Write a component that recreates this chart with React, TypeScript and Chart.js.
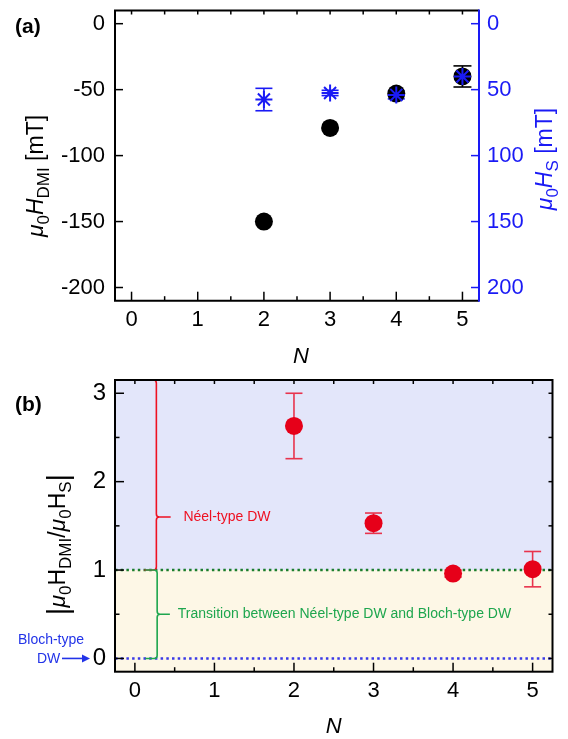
import React, { useEffect, useRef } from "react";
import { Chart, registerables } from "chart.js";
Chart.register(...registerables);

// ---------- data ----------
const N_LAYERS = [2, 3, 4, 5];
const H_DMI = [-150, -79, -53, -40];
const H_DMI_ERR = [0, 0, 0, 8];
const H_S = [57.5, 52.5, 54, 40];
const H_S_ERR = [8.5, 2, 3, 2];
const RATIO = [2.63, 1.53, 0.96, 1.01];
const RATIO_ERR = [0.37, 0.115, 0.04, 0.2];
const N_TICKS = [0, 1, 2, 3, 4, 5];
const DMI_TICKS = [0, -50, -100, -150, -200];
const HS_TICKS = [0, 50, 100, 150, 200];
const RATIO_TICKS = [0, 1, 2, 3];
const X_RANGE = [-0.25, 5.25];
const DMI_RANGE = [-210, 10];
const HS_RANGE = [-10, 210];
const RATIO_RANGE = [-0.15, 3.15];
const NEEL_LIMIT = 1;
const BLOCH_LIMIT = 0;

const FONT = '"Liberation Sans", Arial, Helvetica, sans-serif';
const BLUE = "#1a1af5";
const RED = "#e60019";
const RED_ERR = "#e8334d";
const GREEN_TXT = "#1ea64e";
const GREEN_DOT = "#1b7d2c";
const LAVENDER = "#e3e6fa";
const CREAM = "#fdf7e6";

type Part = { t: string; sub?: boolean; italic?: boolean; bold?: boolean; big?: boolean };

function fontFor(p: Part, size: number) {
  const s = p.sub ? Math.round(size * 0.72) : p.big ? Math.round(size * 1.25) : size;
  return `${p.italic ? "italic " : ""}${p.bold ? "bold " : ""}${s}px ${FONT}`;
}

function drawRich(
  ctx: CanvasRenderingContext2D,
  parts: Part[],
  x: number,
  y: number,
  size: number,
  color: string,
  rotate: boolean,
  align: "center" | "left" = "center"
) {
  ctx.save();
  ctx.translate(x, y);
  if (rotate) ctx.rotate(-Math.PI / 2);
  const widths = parts.map((p) => {
    ctx.font = fontFor(p, size);
    return ctx.measureText(p.t).width;
  });
  const total = widths.reduce((a, b) => a + b, 0);
  let cx = align === "center" ? -total / 2 : 0;
  ctx.textBaseline = "alphabetic";
  ctx.textAlign = "left";
  ctx.fillStyle = color;
  parts.forEach((p, i) => {
    ctx.font = fontFor(p, size);
    ctx.fillText(p.t, cx, p.sub ? size * 0.24 : p.big ? size * 0.12 : 0);
    cx += widths[i];
  });
  ctx.restore();
}

function tickLine(ctx: CanvasRenderingContext2D, x1: number, y1: number, x2: number, y2: number) {
  ctx.beginPath();
  ctx.moveTo(x1, y1);
  ctx.lineTo(x2, y2);
  ctx.stroke();
}

function errorBars(chart: any) {
  const ctx = chart.ctx;
  chart.data.datasets.forEach((ds: any, i: number) => {
    if (!ds.errors) return;
    const meta = chart.getDatasetMeta(i);
    const ys = chart.scales[meta.yAxisID];
    ctx.save();
    ctx.strokeStyle = ds.errColor;
    ctx.lineWidth = ds.errWidth || 1.6;
    meta.data.forEach((pt: any, j: number) => {
      const e = ds.errors[j];
      if (!e) return;
      const v = ds.data[j].y;
      const y1 = ys.getPixelForValue(v + e);
      const y2 = ys.getPixelForValue(v - e);
      const h = ds.capHalf || 8.5;
      tickLine(ctx, pt.x, y1, pt.x, y2);
      tickLine(ctx, pt.x - h, y1, pt.x + h, y1);
      tickLine(ctx, pt.x - h, y2, pt.x + h, y2);
    });
    ctx.restore();
  });
}

function fixAxis(size: number, vertical: boolean) {
  return (s: any) => {
    if (vertical) s.width = size;
    else s.height = size;
    s.paddingTop = 0;
    s.paddingBottom = 0;
    s.paddingLeft = 0;
    s.paddingRight = 0;
  };
}

function setTicks(vals: number[]) {
  return (s: any) => {
    s.ticks = vals.map((v) => ({ value: v }));
  };
}

const tickFont = { family: FONT, size: 22 };

// ---------- Panel A ----------
const pluginA = {
  id: "panelA",
  beforeDatasetsDraw(chart: any) {
    errorBars(chart);
  },
  afterDraw(chart: any) {
    const { ctx, chartArea: a, scales } = chart;
    const xs = scales.x, ys = scales.y, y2 = scales.y2;
    ctx.save();
    ctx.lineWidth = 2;
    ctx.strokeStyle = "#000";
    ctx.beginPath();
    ctx.moveTo(a.right, a.top);
    ctx.lineTo(a.left, a.top);
    ctx.lineTo(a.left, a.bottom);
    ctx.lineTo(a.right, a.bottom);
    ctx.stroke();
    ctx.lineWidth = 1.5;
    for (let v = 0; v <= 5.001; v += 0.5) {
      const px = xs.getPixelForValue(v);
      const major = Math.abs(v - Math.round(v)) < 0.01;
      tickLine(ctx, px, a.bottom, px, a.bottom - (major ? 9 : 4.5));
      tickLine(ctx, px, a.top, px, a.top + 4);
    }
    DMI_TICKS.forEach((v) => {
      const py = ys.getPixelForValue(v);
      tickLine(ctx, a.left, py, a.left + 8, py);
    });
    ctx.strokeStyle = BLUE;
    ctx.lineWidth = 2;
    tickLine(ctx, a.right, a.top - 1, a.right, a.bottom + 1);
    ctx.lineWidth = 1.5;
    HS_TICKS.forEach((v) => {
      const py = y2.getPixelForValue(v);
      tickLine(ctx, a.right, py, a.right - 8, py);
    });
    ctx.restore();

    drawRich(ctx, [
      { t: "μ", italic: true },
      { t: "0", sub: true },
      { t: "H", italic: true },
      { t: "DMI", sub: true },
      { t: " [mT]" },
    ], 43, 176, 23, "#000", true);
    drawRich(ctx, [
      { t: "μ", italic: true },
      { t: "0", sub: true },
      { t: "H", italic: true },
      { t: "S", sub: true },
      { t: " [mT]" },
    ], 552, 159, 23, BLUE, true);
    drawRich(ctx, [{ t: "N", italic: true }], (a.left + a.right) / 2 + 4, 363, 22, "#000", false);
    drawRich(ctx, [{ t: "(a)", bold: true }], 15, 33, 21, "#000", false, "left");
  },
};

function PanelA() {
  const ref = useRef<HTMLCanvasElement>(null);
  useEffect(() => {
    const chart = new Chart(ref.current!, {
      type: "scatter",
      data: {
        datasets: [
          {
            label: "Hs",
            data: N_LAYERS.map((n, i) => ({ x: n, y: H_S[i] })),
            yAxisID: "y2",
            pointStyle: "star",
            pointRadius: 8.5,
            borderWidth: 2,
            borderColor: BLUE,
            backgroundColor: BLUE,
            order: 0,
            errors: H_S_ERR,
            errColor: BLUE,
            capHalf: 8.5,
          } as any,
          {
            label: "DMI",
            data: N_LAYERS.map((n, i) => ({ x: n, y: H_DMI[i] })),
            yAxisID: "y",
            pointStyle: "circle",
            pointRadius: 9,
            borderWidth: 0,
            backgroundColor: "#000",
            borderColor: "#000",
            order: 1,
            errors: H_DMI_ERR,
            errColor: "#000",
            capHalf: 9,
          } as any,
        ],
      },
      options: {
        responsive: false,
        animation: false,
        layout: { padding: { top: 10, left: 0, right: 0, bottom: 0 } },
        plugins: { legend: { display: false }, tooltip: { enabled: false } },
        scales: {
          x: {
            type: "linear",
            min: X_RANGE[0],
            max: X_RANGE[1],
            afterBuildTicks: setTicks(N_TICKS),
            afterFit: fixAxis(69.3, false),
            ticks: { font: tickFont, color: "#000", padding: 6, maxRotation: 0, autoSkip: false },
            grid: { display: false, drawTicks: false },
            border: { display: false },
          },
          y: {
            type: "linear",
            position: "left",
            min: DMI_RANGE[0],
            max: DMI_RANGE[1],
            afterBuildTicks: setTicks(DMI_TICKS),
            afterFit: fixAxis(115, true),
            ticks: { font: tickFont, color: "#000", padding: 10, autoSkip: false },
            grid: { display: false, drawTicks: false },
            border: { display: false },
          },
          y2: {
            type: "linear",
            position: "right",
            reverse: true,
            min: HS_RANGE[0],
            max: HS_RANGE[1],
            afterBuildTicks: setTicks(HS_TICKS),
            afterFit: fixAxis(89, true),
            ticks: { font: tickFont, color: BLUE, padding: 8, autoSkip: false },
            grid: { display: false, drawTicks: false },
            border: { display: false },
          },
        },
      } as any,
      plugins: [pluginA],
    });
    return () => chart.destroy();
  }, []);
  return <canvas ref={ref} width={568} height={370} style={{ display: "block" }} />;
}

// ---------- Panel B ----------
function brace(
  ctx: CanvasRenderingContext2D,
  xo: number,
  xi: number,
  xt: number,
  yTop: number,
  yBot: number,
  yTip: number,
  color: string
) {
  const r = 3;
  ctx.save();
  ctx.strokeStyle = color;
  ctx.lineWidth = 1.6;
  ctx.beginPath();
  ctx.moveTo(xo, yTop);
  ctx.lineTo(xi - r, yTop);
  ctx.quadraticCurveTo(xi, yTop, xi, yTop + r);
  ctx.lineTo(xi, yTip - r);
  ctx.quadraticCurveTo(xi, yTip, xi + r, yTip);
  ctx.lineTo(xt, yTip);
  ctx.moveTo(xi + r, yTip);
  ctx.quadraticCurveTo(xi, yTip, xi, yTip + r);
  ctx.lineTo(xi, yBot - r);
  ctx.quadraticCurveTo(xi, yBot, xi - r, yBot);
  ctx.lineTo(xo, yBot);
  ctx.stroke();
  ctx.restore();
}

const pluginB = {
  id: "panelB",
  beforeDatasetsDraw(chart: any) {
    const { ctx, chartArea: a, scales } = chart;
    const xs = scales.x, ys = scales.y;
    const y1 = ys.getPixelForValue(NEEL_LIMIT);
    const y0 = ys.getPixelForValue(BLOCH_LIMIT);
    ctx.save();
    ctx.fillStyle = LAVENDER;
    ctx.fillRect(a.left, a.top, a.right - a.left, y1 - a.top);
    ctx.fillStyle = CREAM;
    ctx.fillRect(a.left, y1, a.right - a.left, a.bottom - y1);
    ctx.lineWidth = 2.5;
    ctx.lineCap = "butt";
    ctx.setLineDash([2.5, 3.2]);
    ctx.strokeStyle = GREEN_DOT;
    tickLine(ctx, a.left, y1, a.right, y1);
    ctx.strokeStyle = "#3a3ae6";
    tickLine(ctx, a.left, y0, a.right, y0);
    ctx.setLineDash([]);
    ctx.restore();

    brace(ctx, xs.getPixelForValue(0.12), xs.getPixelForValue(0.27), xs.getPixelForValue(0.45),
      a.top, y1, ys.getPixelForValue(1.6), "#ee1122");
    brace(ctx, xs.getPixelForValue(0.13), xs.getPixelForValue(0.28), xs.getPixelForValue(0.44),
      y1, y0, ys.getPixelForValue(0.5), GREEN_TXT);

    ctx.save();
    ctx.font = `14px ${FONT}`;
    ctx.textBaseline = "middle";
    ctx.textAlign = "left";
    ctx.fillStyle = "#ee1122";
    ctx.fillText("Néel-type DW", xs.getPixelForValue(0.61), ys.getPixelForValue(1.6));
    ctx.fillStyle = GREEN_TXT;
    ctx.fillText("Transition between Néel-type DW and Bloch-type DW", xs.getPixelForValue(0.54), ys.getPixelForValue(0.5));
    ctx.restore();

    errorBars(chart);
  },
  afterDraw(chart: any) {
    const { ctx, chartArea: a, scales } = chart;
    const xs = scales.x, ys = scales.y;
    ctx.save();
    ctx.lineWidth = 2;
    ctx.strokeStyle = "#000";
    ctx.strokeRect(a.left, a.top, a.right - a.left, a.bottom - a.top);
    ctx.lineWidth = 1.5;
    for (let v = 0; v <= 5.001; v += 0.5) {
      const px = xs.getPixelForValue(v);
      const major = Math.abs(v - Math.round(v)) < 0.01;
      tickLine(ctx, px, a.bottom, px, a.bottom - (major ? 9 : 4.5));
      tickLine(ctx, px, a.top, px, a.top + 4);
    }
    for (let v = 0; v <= 3.001; v += 0.5) {
      const py = ys.getPixelForValue(v);
      const major = Math.abs(v - Math.round(v)) < 0.01;
      tickLine(ctx, a.left, py, a.left + (major ? 9 : 4.5), py);
      tickLine(ctx, a.right, py, a.right - 4, py);
    }
    ctx.restore();

    const y0 = ys.getPixelForValue(BLOCH_LIMIT);
    ctx.save();
    ctx.fillStyle = "#2233e8";
    ctx.strokeStyle = "#2233e8";
    ctx.font = `14px ${FONT}`;
    ctx.textBaseline = "middle";
    ctx.textAlign = "center";
    ctx.fillText("Bloch-type", 51, y0 - 18);
    ctx.textAlign = "left";
    ctx.fillText("DW", 37, y0 + 1);
    ctx.lineWidth = 1.6;
    tickLine(ctx, 62, y0, 84, y0);
    ctx.beginPath();
    ctx.moveTo(90, y0);
    ctx.lineTo(82, y0 - 4);
    ctx.lineTo(82, y0 + 4);
    ctx.closePath();
    ctx.fill();
    ctx.restore();

    drawRich(ctx, [
      { t: "|", big: true },
      { t: "μ", italic: true },
      { t: "0", sub: true },
      { t: "H" },
      { t: "DMI", sub: true },
      { t: "/" },
      { t: "μ", italic: true },
      { t: "0", sub: true },
      { t: "H" },
      { t: "S", sub: true },
      { t: "|", big: true },
    ], 65, 174.5, 23, "#000", true);
    drawRich(ctx, [{ t: "N", italic: true }], (a.left + a.right) / 2, 363, 22, "#000", false);
    drawRich(ctx, [{ t: "(b)", bold: true }], 15, 41, 21, "#000", false, "left");
  },
};

function PanelB() {
  const ref = useRef<HTMLCanvasElement>(null);
  useEffect(() => {
    const chart = new Chart(ref.current!, {
      type: "scatter",
      data: {
        datasets: [
          {
            label: "ratio",
            data: N_LAYERS.map((n, i) => ({ x: n, y: RATIO[i] })),
            pointStyle: "circle",
            pointRadius: 9,
            borderWidth: 0,
            backgroundColor: RED,
            borderColor: RED,
            errors: RATIO_ERR,
            errColor: RED_ERR,
            capHalf: 8.5,
          } as any,
        ],
      },
      options: {
        responsive: false,
        animation: false,
        layout: { padding: { top: 10, left: 0, right: 15.5, bottom: 0 } },
        plugins: { legend: { display: false }, tooltip: { enabled: false } },
        scales: {
          x: {
            type: "linear",
            min: X_RANGE[0],
            max: X_RANGE[1],
            afterBuildTicks: setTicks(N_TICKS),
            afterFit: fixAxis(67.3, false),
            ticks: { font: tickFont, color: "#000", padding: 6, maxRotation: 0, autoSkip: false },
            grid: { display: false, drawTicks: false },
            border: { display: false },
          },
          y: {
            type: "linear",
            position: "left",
            min: RATIO_RANGE[0],
            max: RATIO_RANGE[1],
            afterBuildTicks: setTicks(RATIO_TICKS),
            afterFit: fixAxis(115, true),
            ticks: { font: { family: FONT, size: 24 }, color: "#000", padding: 9, autoSkip: false },
            grid: { display: false, drawTicks: false },
            border: { display: false },
          },
        },
      } as any,
      plugins: [pluginB],
    });
    return () => chart.destroy();
  }, []);
  return <canvas ref={ref} width={568} height={369} style={{ display: "block" }} />;
}

export default function App() {
  return (
    <div style={{ position: "absolute", left: 0, top: 0, width: 568, height: 739, background: "#fff" }}>
      <PanelA />
      <PanelB />
    </div>
  );
}
